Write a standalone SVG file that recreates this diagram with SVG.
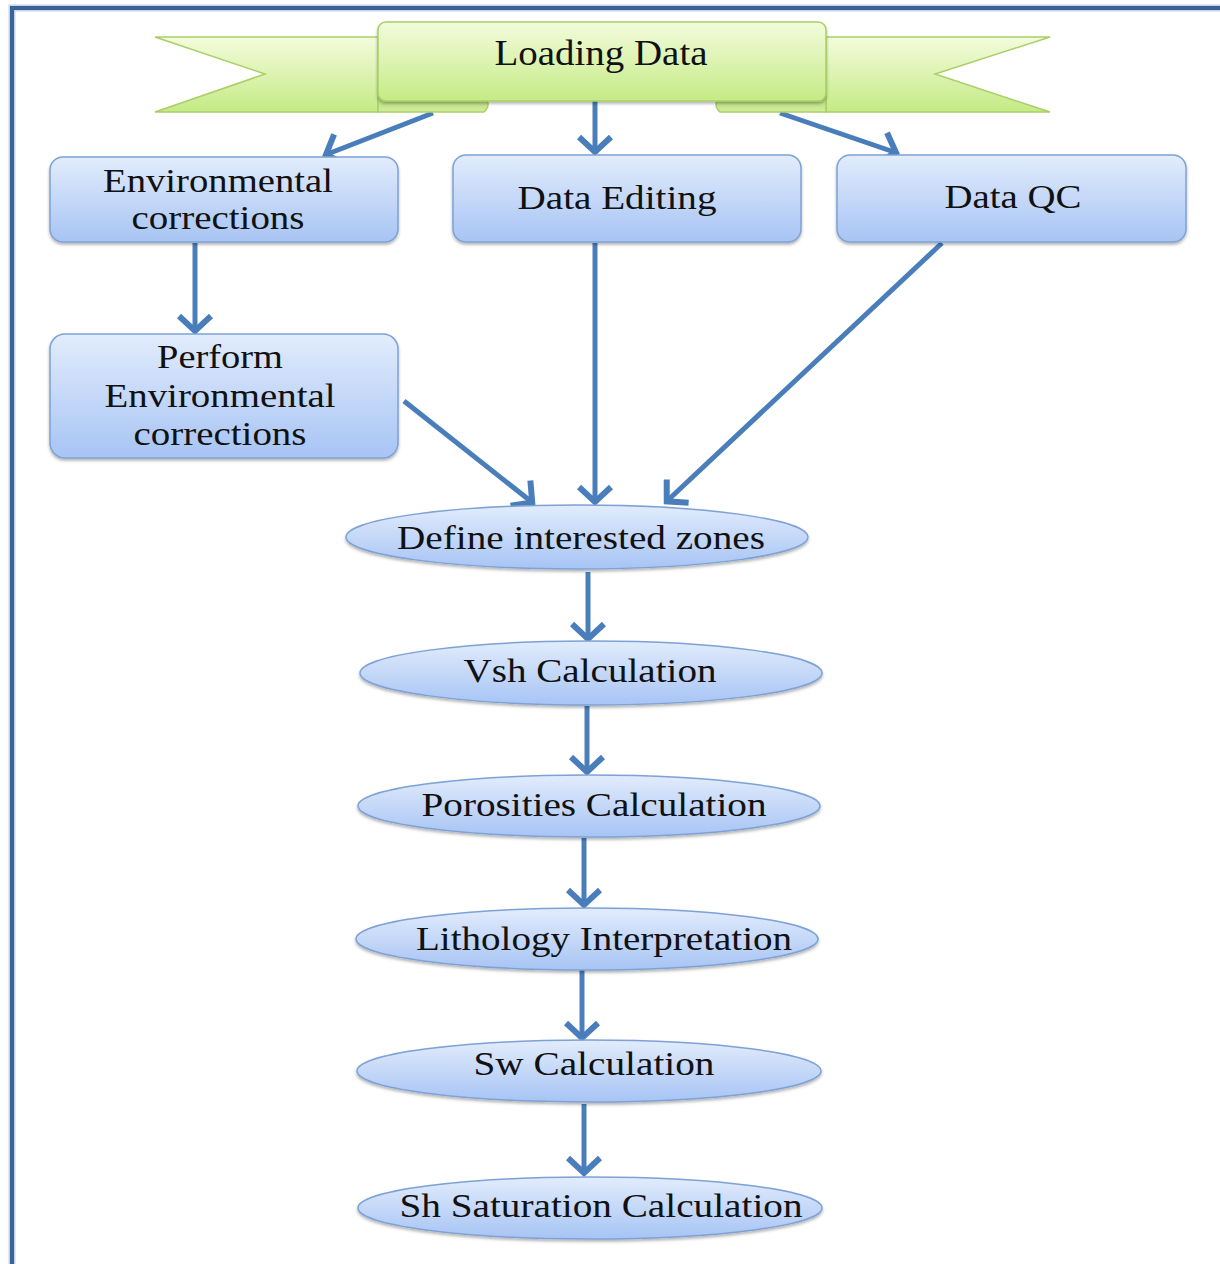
<svg xmlns="http://www.w3.org/2000/svg" width="1220" height="1264" viewBox="0 0 1220 1264">
<style>
.t{font-family:"Liberation Serif","Times New Roman",serif;font-size:33px;fill:#111;}
.box{fill:url(#gb);stroke:#7ea2d6;stroke-width:1.5;filter:url(#sh);}
.con{stroke:#4a7ebb;stroke-width:5;fill:none;marker-end:url(#ah);}
</style>
<defs>
<linearGradient id="gb" x1="0" y1="0" x2="0" y2="1">
<stop offset="0" stop-color="#e2ecfc"/><stop offset="1" stop-color="#a7c4f4"/>
</linearGradient>
<linearGradient id="gg" x1="0" y1="0" x2="0" y2="1">
<stop offset="0" stop-color="#f3fcdc"/><stop offset="1" stop-color="#c5ea85"/>
</linearGradient>
<linearGradient id="gf" x1="0" y1="0" x2="0" y2="1">
<stop offset="0" stop-color="#b7d87a"/><stop offset="1" stop-color="#d2ee9c"/>
</linearGradient>
<filter id="sh" x="-10%" y="-20%" width="120%" height="150%">
<feDropShadow dx="0" dy="2" stdDeviation="1.5" flood-color="#000" flood-opacity="0.3"/>
</filter>
<marker id="ah" viewBox="0 0 26 36" refX="21" refY="18" markerWidth="26" markerHeight="36" markerUnits="userSpaceOnUse" orient="auto">
<path d="M5,2 L20,18 L5,34" fill="none" stroke="#4a7ebb" stroke-width="6"/>
</marker>
</defs>
<rect width="1220" height="1264" fill="#fff"/>
<path d="M12,1264 L12,8 L1220,8" fill="none" stroke="#c3d3e8" stroke-width="7"/>
<path d="M12,1264 L12,8 L1220,8" fill="none" stroke="#3a6399" stroke-width="4"/>

<g id="connectors">
<line class="con" x1="433" y1="113" x2="325" y2="155"/>
<line class="con" x1="595" y1="97" x2="595" y2="153"/>
<line class="con" x1="780" y1="113" x2="897" y2="153"/>
<line class="con" x1="195" y1="243" x2="195" y2="332"/>
<line class="con" x1="595" y1="243" x2="595" y2="503"/>
<line class="con" x1="942" y1="243" x2="666" y2="502"/>
<line class="con" x1="404" y1="401" x2="533" y2="503"/>
<line class="con" x1="588" y1="572" x2="588" y2="640"/>
<line class="con" x1="587" y1="706" x2="587" y2="773"/>
<line class="con" x1="584" y1="838" x2="584" y2="906"/>
<line class="con" x1="582" y1="970" x2="582" y2="1039"/>
<line class="con" x1="584" y1="1104" x2="584" y2="1174"/>
</g>

<g id="loading">
<path d="M155,37 L378,37 L378,112 L155,112 L265,74 Z" fill="url(#gg)" stroke="#a9cf66" stroke-width="1.5"/>
<path d="M1050,37 L826,37 L826,112 L1050,112 L935,74 Z" fill="url(#gg)" stroke="#a9cf66" stroke-width="1.5"/>
<path d="M378,97 L484,97 Q492,104.5 484,112 L378,112 Z" fill="url(#gf)" stroke="#a9cf66" stroke-width="1.5"/>
<path d="M826,97 L720,97 Q712,104.5 720,112 L826,112 Z" fill="url(#gf)" stroke="#a9cf66" stroke-width="1.5"/>
<rect x="378" y="22" width="448" height="79" rx="8" fill="url(#gg)" stroke="#a9cf66" stroke-width="1.5" filter="url(#sh)"/>
<text class="t" x="601" y="65" text-anchor="middle" textLength="213" lengthAdjust="spacingAndGlyphs" style="font-size:36px">Loading Data</text>
</g>

<g id="env">
<rect class="box" x="50" y="157" width="348" height="85" rx="13"/>
<text class="t" x="218" y="192" text-anchor="middle" textLength="230" lengthAdjust="spacingAndGlyphs">Environmental</text>
<text class="t" x="218" y="229" text-anchor="middle" textLength="173" lengthAdjust="spacingAndGlyphs">corrections</text>
</g>

<g id="editing">
<rect class="box" x="453" y="155" width="348" height="87" rx="13"/>
<text class="t" x="617" y="209" text-anchor="middle" textLength="199" lengthAdjust="spacingAndGlyphs">Data Editing</text>
</g>

<g id="qc">
<rect class="box" x="837" y="155" width="349" height="87" rx="13"/>
<text class="t" x="1013" y="208" text-anchor="middle" textLength="137" lengthAdjust="spacingAndGlyphs">Data QC</text>
</g>

<g id="perform">
<rect class="box" x="50" y="334" width="348" height="124" rx="15"/>
<text class="t" x="220" y="368" text-anchor="middle" textLength="126" lengthAdjust="spacingAndGlyphs">Perform</text>
<text class="t" x="220" y="407" text-anchor="middle" textLength="231" lengthAdjust="spacingAndGlyphs">Environmental</text>
<text class="t" x="220" y="445" text-anchor="middle" textLength="173" lengthAdjust="spacingAndGlyphs">corrections</text>
</g>

<g id="define">
<ellipse class="box" cx="577" cy="537" rx="231" ry="32"/>
<text class="t" x="581" y="549" text-anchor="middle" textLength="368" lengthAdjust="spacingAndGlyphs">Define interested zones</text>
</g>

<g id="vsh">
<ellipse class="box" cx="591" cy="673" rx="231" ry="32"/>
<text class="t" x="590" y="682" text-anchor="middle" textLength="253" lengthAdjust="spacingAndGlyphs">Vsh Calculation</text>
</g>

<g id="porosities">
<ellipse class="box" cx="589" cy="806" rx="231" ry="31"/>
<text class="t" x="594" y="816" text-anchor="middle" textLength="345" lengthAdjust="spacingAndGlyphs">Porosities Calculation</text>
</g>

<g id="lithology">
<ellipse class="box" cx="587" cy="939" rx="231" ry="31"/>
<text class="t" x="604" y="950" text-anchor="middle" textLength="376" lengthAdjust="spacingAndGlyphs">Lithology Interpretation</text>
</g>

<g id="sw">
<ellipse class="box" cx="589" cy="1071" rx="232" ry="31"/>
<text class="t" x="594" y="1075" text-anchor="middle" textLength="241" lengthAdjust="spacingAndGlyphs">Sw Calculation</text>
</g>

<g id="sh">
<ellipse class="box" cx="590" cy="1208" rx="232" ry="31"/>
<text class="t" x="601" y="1217" text-anchor="middle" textLength="403" lengthAdjust="spacingAndGlyphs">Sh Saturation Calculation</text>
</g>
</svg>
